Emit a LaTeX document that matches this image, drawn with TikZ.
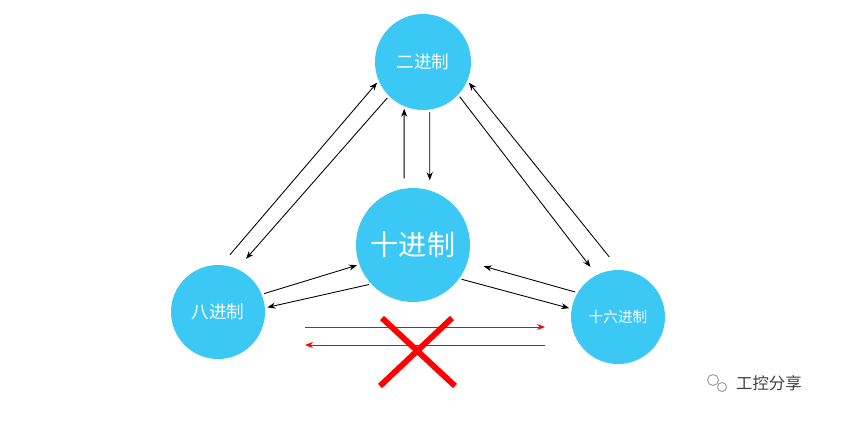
\documentclass[tikz,border=0pt]{standalone}
\usepackage{fontspec}
\setmainfont{Noto Sans CJK SC}
\usetikzlibrary{arrows.meta}

\definecolor{ballblue}{HTML}{3CC8F5}
\tikzset{
  base/.style={circle, fill=ballblue, draw=none, inner sep=0pt, text=white},
  arr/.style={-{Stealth[length=2.4mm]}, line width=0.75pt, shorten <=2pt, shorten >=2pt},
  redarr/.style={-{Stealth[length=2.4mm]}, red, line width=0.75pt},
}

\begin{document}
\begin{tikzpicture}[x=0.03cm,y=-0.03cm]
  \useasboundingbox (0,0) rectangle (846,421);

  \node[base, minimum size=2.88cm, font=\fontsize{15}{17}\selectfont] (bin) at (423,62) {二进制};
  \node[base, minimum size=3.42cm, font=\fontsize{24}{26}\selectfont] (dec) at (413,245) {十进制};
  \node[base, minimum size=2.82cm, font=\fontsize{15}{17}\selectfont] (oct) at (218,312) {八进制};
  \node[base, minimum size=2.82cm, font=\fontsize{12.5}{14}\selectfont] (hex) at (618,317) {十六进制};

  % octal <-> binary
  \draw[arr, shorten <=0.4cm] (oct.86) -- (bin.203);
  \draw[arr, shorten >=0.4cm] (bin.225) -- (oct.66);
  % decimal <-> binary
  \draw[arr, shorten <=0.3cm] (dec.99) -- (bin.247);
  \draw[arr, shorten >=0.3cm] (bin.278) -- (dec.73);
  % binary <-> hex
  \draw[arr, shorten >=0.3cm] (bin.317) -- (hex.117);
  \draw[arr, shorten <=0.5cm] (hex.88) -- (bin.337);
  % octal <-> decimal
  \draw[arr] (oct.22) -- (dec.200);
  \draw[arr] (dec.223) -- (oct.5);
  % decimal <-> hex
  \draw[arr] (dec.324) -- (hex.170);
  \draw[arr, shorten >=0.5cm] (hex.149) -- (dec.343);

  % no direct octal <-> hex
  \coordinate (o1) at (305,327);
  \coordinate (h1) at (545,327);
  \coordinate (o2) at (305,345);
  \coordinate (h2) at (545,345);
  \draw[redarr] (o1) -- (h1);
  \draw[redarr] (h2) -- (o2);
  \coordinate (x1) at (382,318);
  \coordinate (x2) at (455,386);
  \coordinate (x3) at (452,318);
  \coordinate (x4) at (380,386);
  \draw[red, line width=5pt] (x1) -- (x2);
  \draw[red, line width=5pt] (x3) -- (x4);

  % watermark
  \node[draw=gray!80, circle, inner sep=0pt, minimum size=0.33cm, thick] (w1) at (713,380) {};
  \node[draw=gray!80, circle, inner sep=0pt, minimum size=0.27cm, thick] (w2) at (722,387) {};
  \node[text=black!75, font=\fontsize{14}{16}\selectfont, anchor=west] (mark) at (732,383) {工控分享};
\end{tikzpicture}
\end{document}
